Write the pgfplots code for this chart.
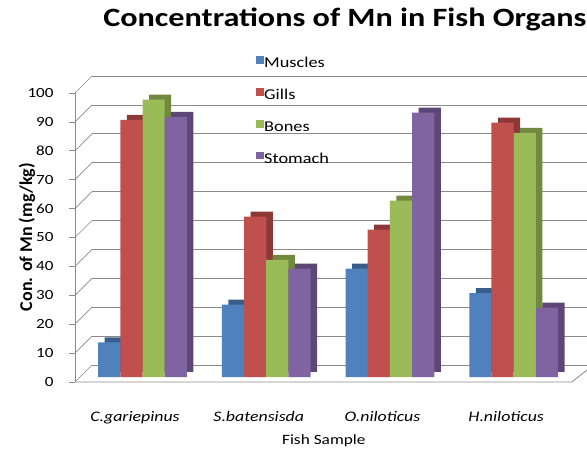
\documentclass[border=0pt]{standalone}
\usepackage{fontspec}
\setmainfont{Carlito}[FakeStretch=1.22]
\newfontfamily\plainfont{Carlito}
\usepackage{pgfplots}
\usepackage{pgfplotstable}
\pgfplotsset{compat=1.18}

% front faces and darker side/top faces of the columns
\definecolor{musF}{HTML}{4F81BD}\definecolor{musS}{HTML}{385D8A}
\definecolor{gilF}{HTML}{C0504D}\definecolor{gilS}{HTML}{8C3836}
\definecolor{bonF}{HTML}{9BBB59}\definecolor{bonS}{HTML}{71893F}
\definecolor{stoF}{HTML}{8064A2}\definecolor{stoS}{HTML}{5C4776}
\definecolor{gridgray}{HTML}{8A8A8A}

% Mn concentration (mg/kg) per organ, one row per fish species
\pgfplotstableread{
x  musc  gills  bones  stom
0  12    89     96     90
1  25    55.5   40.5   37.5
2  37.5  51     61     91.5
3  29    88     84.5   24
}\mndata

\begin{document}
\begin{tikzpicture}
\clip (0,0) rectangle (587bp,456bp);
\begin{axis}[
  at={(75bp,79bp)}, anchor=south west,
  scale only axis, width=512bp, height=289bp,
  xmin=-0.546, xmax=3.593, ymin=0, ymax=100,
  clip=false,
  axis line style={draw=none},
  ybar, bar width=0.1795,
  xtick={0,1,2,3},
  xticklabels={C.gariepinus, S.batensisda, O.niloticus, H.niloticus},
  xtick style={draw=none},
  xticklabel style={font=\fontsize{14.6bp}{16bp}\selectfont\itshape, xshift=-7.5bp, yshift=-24.5bp},
  ytick={0,10,...,100},
  ytick pos=left, tick align=outside, major tick length=6bp,
  ytick style={draw=gridgray, line width=0.7bp, yshift=-5bp},
  yticklabel style={font=\fontsize{14bp}{16bp}\selectfont, xshift=-12bp, yshift=-5bp},
  /pgf/number format/assume math mode=true,
  ymajorgrids,
  major grid style={draw=gridgray, line width=0.7bp, xshift=17bp, yshift=12bp},
  title={Concentrations of Mn in Fish Organs},
  title style={font=\fontsize{26.4bp}{30bp}\selectfont\bfseries, at={(axis description cs:0.527,1.1938)}, anchor=base},
  xlabel={Fish Sample},
  xlabel style={font=\fontsize{14.2bp}{16bp}\selectfont, at={(axis description cs:0.486,-0.22)}, anchor=center},
  ylabel={Con. of Mn (mg/kg)},
  ylabel style={font=\plainfont\fontsize{18bp}{20bp}\selectfont\bfseries, at={(axis description cs:-0.094,0.484)}, anchor=center},
  legend style={at={(axis description cs:0.3535,1.11)}, anchor=north west,
    draw=none, fill=none, font=\fontsize{15bp}{17bp}\selectfont,
    row sep=17.3bp, inner sep=0pt,
    nodes={inner sep=0pt, text height=10bp, text depth=3bp},
    /tikz/every even column/.append style={column sep=5bp}},
  legend cell align=left,
  legend image code/.code={\fill[#1] (0bp,0.5bp) rectangle (8bp,8bp);},
]
% side wall and floor edges
\pgfplotsinvokeforeach{0,10,...,100}{
  \draw[gridgray, line width=0.7bp, yshift=-5bp] (axis cs:-0.546,#1) -- ++(17bp,17bp);
}
\draw[gridgray, line width=0.7bp, yshift=-5bp] (axis cs:-0.546,0) -- (axis cs:-0.546,100);
\draw[gridgray, line width=0.8bp, yshift=-5bp] (axis cs:-0.546,0) -- (axis cs:3.47,0) -- ++(16bp,12.5bp);

% depth faces, drawn behind the front faces
\addplot[forget plot, fill=musS, draw=none, bar shift=-0.269, xshift=6.5bp, yshift=5bp] table[x=x, y=musc] {\mndata};
\addplot[forget plot, fill=gilS, draw=none, bar shift=-0.0897, xshift=6.5bp, yshift=5bp] table[x=x, y=gills] {\mndata};
\addplot[forget plot, fill=bonS, draw=none, bar shift=0.0897, xshift=6.5bp, yshift=5bp] table[x=x, y=bones] {\mndata};
\addplot[forget plot, fill=stoS, draw=none, bar shift=0.269, xshift=6.5bp, yshift=5bp] table[x=x, y=stom] {\mndata};

% front faces
\addplot[fill=musF, draw=none, bar shift=-0.269] table[x=x, y=musc] {\mndata};
\addplot[fill=gilF, draw=none, bar shift=-0.0897] table[x=x, y=gills] {\mndata};
\addplot[fill=bonF, draw=none, bar shift=0.0897] table[x=x, y=bones] {\mndata};
\addplot[fill=stoF, draw=none, bar shift=0.269] table[x=x, y=stom] {\mndata};
\legend{Muscles, Gills, Bones, Stomach}
\end{axis}
\end{tikzpicture}
\end{document}
